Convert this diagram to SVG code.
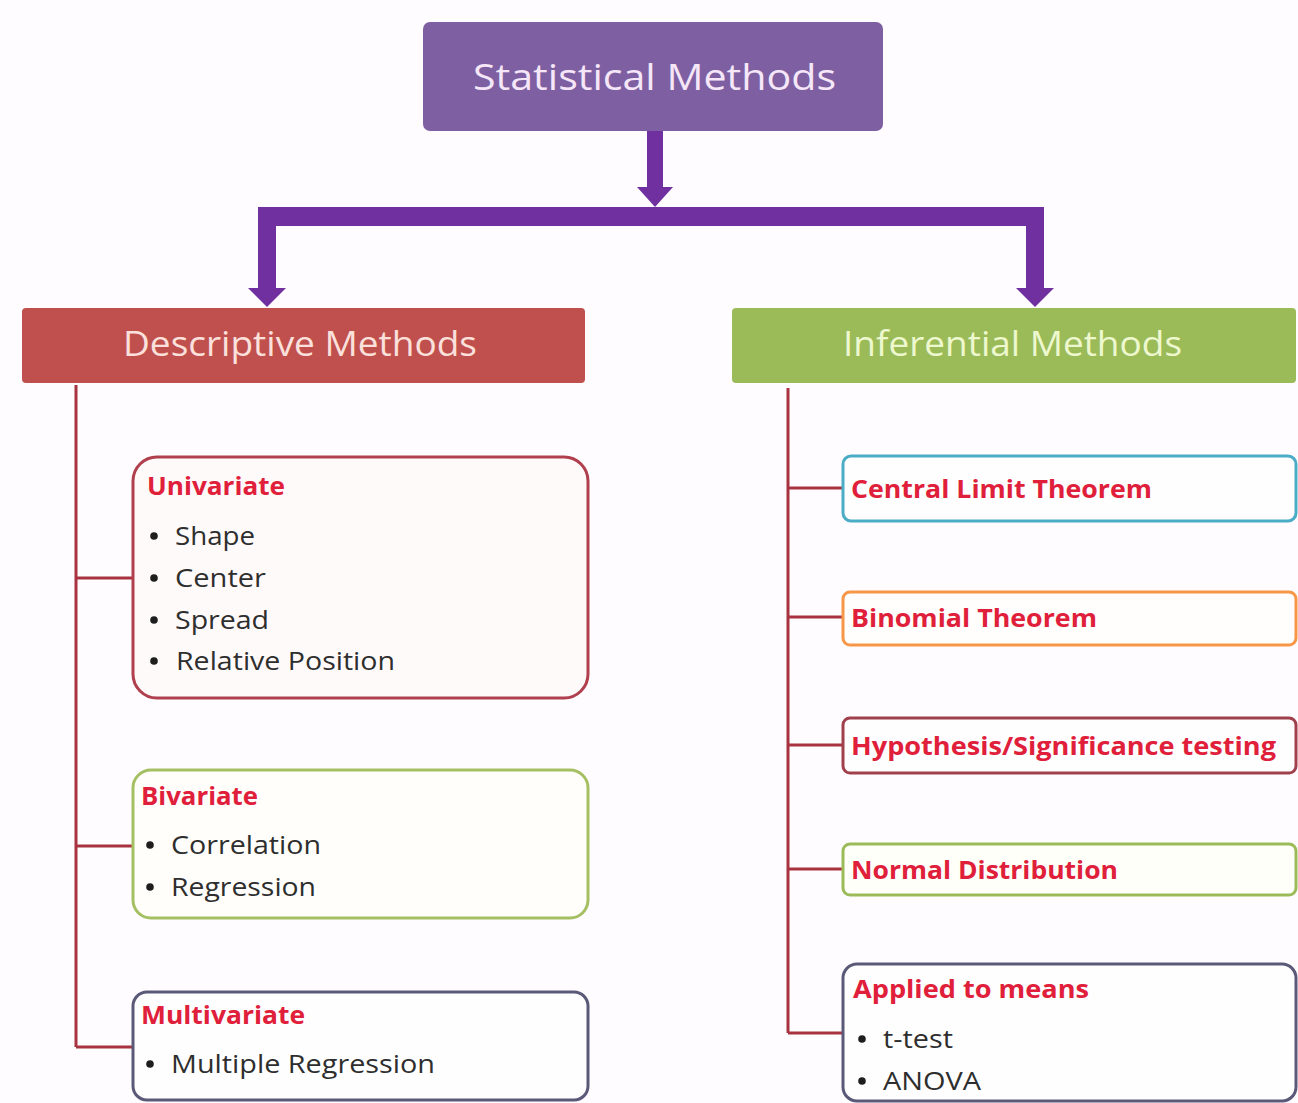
<svg xmlns="http://www.w3.org/2000/svg" width="1298" height="1103" viewBox="0 0 1298 1103">
<style>
.hdr{font-family:"Open Sans","Noto Sans",sans-serif;text-anchor:start}
.ttl{font-family:"Open Sans","Noto Sans",sans-serif;font-weight:bold;fill:#e0203a;font-size:25px}
.itm{font-family:"Open Sans","Noto Sans",sans-serif;fill:#2e2e2e;font-size:26px}
.bul{fill:#1e1e1e}
.tree{stroke:#a8323f;stroke-width:3;fill:none}
.pur{fill:#7030a0}
</style>
<rect x="0" y="0" width="1298" height="1103" fill="#fefcfe"/>
<g id="connectors">
  <rect class="pur" x="647" y="131" width="16" height="58"/>
  <polygon class="pur" points="637,187 673,187 655,207"/>
  <rect class="pur" x="258" y="207" width="785" height="19"/>
  <rect class="pur" x="258" y="207" width="18" height="83"/>
  <polygon class="pur" points="248,288 286,288 267,307"/>
  <rect class="pur" x="1026" y="207" width="18" height="83"/>
  <polygon class="pur" points="1016,288 1054,288 1035,307"/>
  <path class="tree" d="M76,385 V1047 M76,578 H133 M76,846 H133 M76,1047 H133"/>
  <path class="tree" d="M788,388 V1033 M788,488 H843 M788,617 H843 M788,745 H843 M788,869 H843 M788,1033 H843"/>
</g>
<g id="statistical">
  <rect x="423" y="22" width="460" height="109" rx="7" fill="#7e60a2"/>
  <text class="hdr" x="473" y="90" font-size="37" fill="#f5e6f8" textLength="363" lengthAdjust="spacingAndGlyphs">Statistical Methods</text>
</g>
<g id="descriptive">
  <rect x="22" y="308" width="563" height="75" rx="4" fill="#c0504d"/>
  <text class="hdr" x="123" y="356" font-size="34" fill="#fbe0dc" textLength="354" lengthAdjust="spacingAndGlyphs">Descriptive Methods</text>
</g>
<g id="inferential">
  <rect x="732" y="308" width="564" height="75" rx="4" fill="#9bbb59"/>
  <text class="hdr" x="843" y="356" font-size="34" fill="#eef8cf" textLength="339" lengthAdjust="spacingAndGlyphs">Inferential Methods</text>
</g>
<g id="univariate">
  <rect x="133" y="457" width="455" height="241" rx="24" fill="#fffafa" stroke="#b0404e" stroke-width="3"/>
  <text class="ttl" x="147" y="495" textLength="138" lengthAdjust="spacingAndGlyphs">Univariate</text>
  <circle class="bul" cx="154" cy="536" r="3.8"/><text class="itm" x="175" y="545" textLength="80" lengthAdjust="spacingAndGlyphs">Shape</text>
  <circle class="bul" cx="154" cy="578" r="3.8"/><text class="itm" x="175" y="587" textLength="91" lengthAdjust="spacingAndGlyphs">Center</text>
  <circle class="bul" cx="154" cy="620" r="3.8"/><text class="itm" x="175" y="629" textLength="94" lengthAdjust="spacingAndGlyphs">Spread</text>
  <circle class="bul" cx="154" cy="661" r="3.8"/><text class="itm" x="176" y="670" textLength="219" lengthAdjust="spacingAndGlyphs">Relative Position</text>
</g>
<g id="bivariate">
  <rect x="133" y="770" width="455" height="148" rx="18" fill="#fffefa" stroke="#a5c063" stroke-width="3"/>
  <text class="ttl" x="141" y="805" textLength="117" lengthAdjust="spacingAndGlyphs">Bivariate</text>
  <circle class="bul" cx="150" cy="845" r="3.8"/><text class="itm" x="171" y="854" textLength="150" lengthAdjust="spacingAndGlyphs">Correlation</text>
  <circle class="bul" cx="150" cy="887" r="3.8"/><text class="itm" x="171" y="896" textLength="145" lengthAdjust="spacingAndGlyphs">Regression</text>
</g>
<g id="multivariate">
  <rect x="133" y="992" width="455" height="108" rx="14" fill="#fffefe" stroke="#5a5a78" stroke-width="3"/>
  <text class="ttl" x="141" y="1024" textLength="164" lengthAdjust="spacingAndGlyphs">Multivariate</text>
  <circle class="bul" cx="150" cy="1064" r="3.8"/><text class="itm" x="171" y="1073" textLength="264" lengthAdjust="spacingAndGlyphs">Multiple Regression</text>
</g>
<g id="clt">
  <rect x="843" y="456" width="453" height="65" rx="8" fill="#fefefe" stroke="#4bacc6" stroke-width="3"/>
  <text class="ttl" x="851" y="498" textLength="301" lengthAdjust="spacingAndGlyphs">Central Limit Theorem</text>
</g>
<g id="binomial">
  <rect x="843" y="592" width="453" height="53" rx="7" fill="#fffefc" stroke="#f79646" stroke-width="3"/>
  <text class="ttl" x="851" y="627" textLength="246" lengthAdjust="spacingAndGlyphs">Binomial Theorem</text>
</g>
<g id="hypothesis">
  <rect x="843" y="718" width="453" height="55" rx="7" fill="#fffefe" stroke="#a0404c" stroke-width="3"/>
  <text class="ttl" x="851" y="755" textLength="425" lengthAdjust="spacingAndGlyphs">Hypothesis/Significance  testing</text>
</g>
<g id="normal">
  <rect x="843" y="844" width="453" height="51" rx="7" fill="#fffffa" stroke="#9bbb59" stroke-width="3"/>
  <text class="ttl" x="851" y="879" textLength="267" lengthAdjust="spacingAndGlyphs">Normal Distribution</text>
</g>
<g id="applied">
  <rect x="843" y="964" width="453" height="137" rx="14" fill="#fffefe" stroke="#5a5a78" stroke-width="3"/>
  <text class="ttl" x="853" y="998" textLength="236" lengthAdjust="spacingAndGlyphs">Applied to means</text>
  <circle class="bul" cx="862" cy="1039" r="3.8"/><text class="itm" x="883" y="1048" textLength="70" lengthAdjust="spacingAndGlyphs">t-test</text>
  <circle class="bul" cx="862" cy="1081" r="3.8"/><text class="itm" x="883" y="1090" textLength="98" lengthAdjust="spacingAndGlyphs">ANOVA</text>
</g>
</svg>
